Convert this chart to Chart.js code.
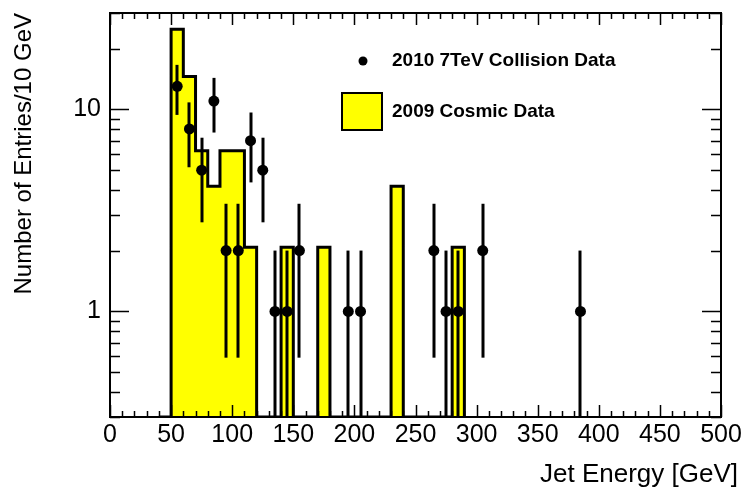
<!DOCTYPE html>
<html lang="en">
<head>
    <meta charset="UTF-8">
    <title>Jet Energy</title>
    <script src="https://cdn.jsdelivr.net/npm/chart.js"></script>
    <style>
        html, body {
            margin: 0;
            padding: 0;
            background: #ffffff;
        }
        .chart-box {
            width: 742px;
            height: 491px;
        }
    </style>
</head>
<body>
    <div class="chart-box">
        <canvas id="jetChart"></canvas>
    </div>

    <script>
        // 2009 cosmic data, histogram (low bin edge, scaled content per 10 GeV)
        const cosmicLowEdges = [40, 50, 60, 70, 80, 90, 100, 110, 120, 130, 140, 150, 160, 170, 180,
                                190, 200, 210, 220, 230, 240, 250, 260, 270, 280, 290];
        const cosmicValues = [0, 24.96, 14.56, 6.24, 4.16, 6.24, 6.24, 2.08, 0, 0, 2.08, 0, 0, 2.08, 0,
                              0, 0, 0, 0, 4.16, 0, 0, 0, 0, 2.08, 0];

        // 2010 7TeV collision data (bin centre, entries, error)
        const collisionX = [55, 65, 75, 85, 95, 105, 115, 125, 135, 145, 155, 195, 205, 265, 275, 285, 305, 385];
        const collisionY = [13, 8, 5, 11, 2, 2, 7, 5, 1, 1, 2, 1, 1, 2, 1, 1, 2, 1];
        const collisionErr = [3.61, 2.83, 2.24, 3.32, 1.41, 1.41, 2.65, 2.24, 1, 1, 1.41, 1, 1, 1.41, 1, 1, 1.41, 1];

        // axis labels
        const yTickLabels = [1, 10];
        const yMin = 0.3;
        const yMax = 30;

        const FONT = '"Liberation Sans", Arial, sans-serif';

        // ROOT style frame, inward ticks, error bars, legend and x title
        const rootStyle = {
            id: 'rootStyle',
            afterDatasetsDraw(chart) {
                const ctx = chart.ctx;
                const x = chart.scales.x;
                const y = chart.scales.y;
                ctx.save();
                ctx.strokeStyle = '#000';
                ctx.lineWidth = 3;
                collisionX.forEach((cx, i) => {
                    const lo = collisionY[i] - collisionErr[i];
                    const hi = collisionY[i] + collisionErr[i];
                    const px = Math.round(x.getPixelForValue(cx));
                    ctx.beginPath();
                    ctx.moveTo(px, y.getPixelForValue(lo > yMin ? lo : yMin));
                    ctx.lineTo(px, y.getPixelForValue(hi));
                    ctx.stroke();
                });
                ctx.restore();
            },
            afterDraw(chart) {
                const ctx = chart.ctx;
                const a = chart.chartArea;
                const x = chart.scales.x;
                const y = chart.scales.y;
                ctx.save();
                ctx.strokeStyle = '#000';
                ctx.lineWidth = 1.5;

                // x ticks, bottom and top
                ctx.beginPath();
                for (let v = 0; v <= 500; v += 10) {
                    const px = Math.round(x.getPixelForValue(v)) + 0.5;
                    const len = v % 50 === 0 ? 12 : 6;
                    ctx.moveTo(px, a.bottom);
                    ctx.lineTo(px, a.bottom - len);
                    ctx.moveTo(px, a.top);
                    ctx.lineTo(px, a.top + len);
                }
                // y ticks, left and right (log)
                for (let d = 0.1; d <= 10; d *= 10) {
                    for (let m = 1; m <= 9; m++) {
                        const v = m * d;
                        if (v < yMin - 1e-9 || v > yMax + 1e-9) continue;
                        const py = Math.round(y.getPixelForValue(v)) + 0.5;
                        const len = m === 1 ? 19 : 10;
                        ctx.moveTo(a.left, py);
                        ctx.lineTo(a.left + len, py);
                        ctx.moveTo(a.right, py);
                        ctx.lineTo(a.right - len, py);
                    }
                }
                ctx.stroke();

                // frame
                ctx.lineWidth = 2;
                ctx.strokeRect(a.left, a.top, a.right - a.left, a.bottom - a.top);

                // x title, right aligned past the frame like the original
                ctx.fillStyle = '#000';
                ctx.font = '26px ' + FONT;
                ctx.textAlign = 'right';
                ctx.textBaseline = 'middle';
                ctx.fillText('Jet Energy [GeV]', 738, 475);

                // legend
                ctx.beginPath();
                ctx.arc(363, 61, 4.5, 0, Math.PI * 2);
                ctx.fill();
                ctx.font = 'bold 19px ' + FONT;
                ctx.textAlign = 'left';
                ctx.fillText('2010 7TeV Collision Data', 392, 61);

                ctx.fillStyle = '#ffff00';
                ctx.fillRect(342, 93, 40, 37);
                ctx.lineWidth = 2;
                ctx.strokeRect(342, 93, 40, 37);
                ctx.fillStyle = '#000';
                ctx.fillText('2009 Cosmic Data', 392, 112);
                ctx.restore();
            }
        };

        const ctxJet = document.getElementById('jetChart').getContext('2d');
        new Chart(ctxJet, {
            type: 'scatter',
            data: {
                datasets: [
                    {
                        label: '2010 7TeV Collision Data',
                        data: collisionX.map((v, i) => ({ x: v, y: collisionY[i] })),
                        pointRadius: 5.5,
                        pointHoverRadius: 5.5,
                        pointStyle: 'circle',
                        backgroundColor: '#000',
                        borderColor: '#000',
                        borderWidth: 0,
                        order: 0
                    },
                    {
                        type: 'line',
                        label: '2009 Cosmic Data',
                        data: cosmicLowEdges.map((v, i) => ({ x: v, y: cosmicValues[i] > 0 ? cosmicValues[i] : yMin })),
                        stepped: 'before',
                        showLine: true,
                        pointRadius: 0,
                        borderColor: '#000',
                        borderWidth: 3,
                        backgroundColor: '#ffff00',
                        fill: 'start',
                        order: 1
                    }
                ]
            },
            options: {
                responsive: true,
                maintainAspectRatio: false,
                animation: false,
                layout: {
                    padding: { top: 13, right: 21, left: 0, bottom: 0 }
                },
                plugins: {
                    legend: { display: false },
                    tooltip: { enabled: false }
                },
                scales: {
                    x: {
                        type: 'linear',
                        min: 0,
                        max: 500,
                        afterFit(scale) {
                            scale.height = 74;
                            scale.paddingLeft = 0;
                            scale.paddingRight = 0;
                        },
                        grid: { display: false, drawTicks: false },
                        border: { display: false },
                        ticks: {
                            stepSize: 50,
                            padding: 3,
                            color: '#000',
                            maxRotation: 0,
                            font: { family: FONT, size: 25 }
                        }
                    },
                    y: {
                        type: 'logarithmic',
                        min: yMin,
                        max: yMax,
                        afterFit(scale) {
                            scale.width = 110;
                            scale.paddingTop = 0;
                            scale.paddingBottom = 0;
                        },
                        afterBuildTicks(scale) {
                            scale.ticks = yTickLabels.map(v => ({ value: v }));
                        },
                        grid: { display: false, drawTicks: false },
                        border: { display: false },
                        ticks: {
                            padding: 9,
                            color: '#000',
                            font: { family: FONT, size: 25 },
                            callback: v => String(v)
                        },
                        title: {
                            display: true,
                            text: 'Number of Entries/10 GeV',
                            align: 'end',
                            color: '#000',
                            padding: { top: 10, bottom: 0 },
                            font: { family: FONT, size: 24 }
                        }
                    }
                }
            },
            plugins: [rootStyle]
        });
    </script>
</body>
</html>
